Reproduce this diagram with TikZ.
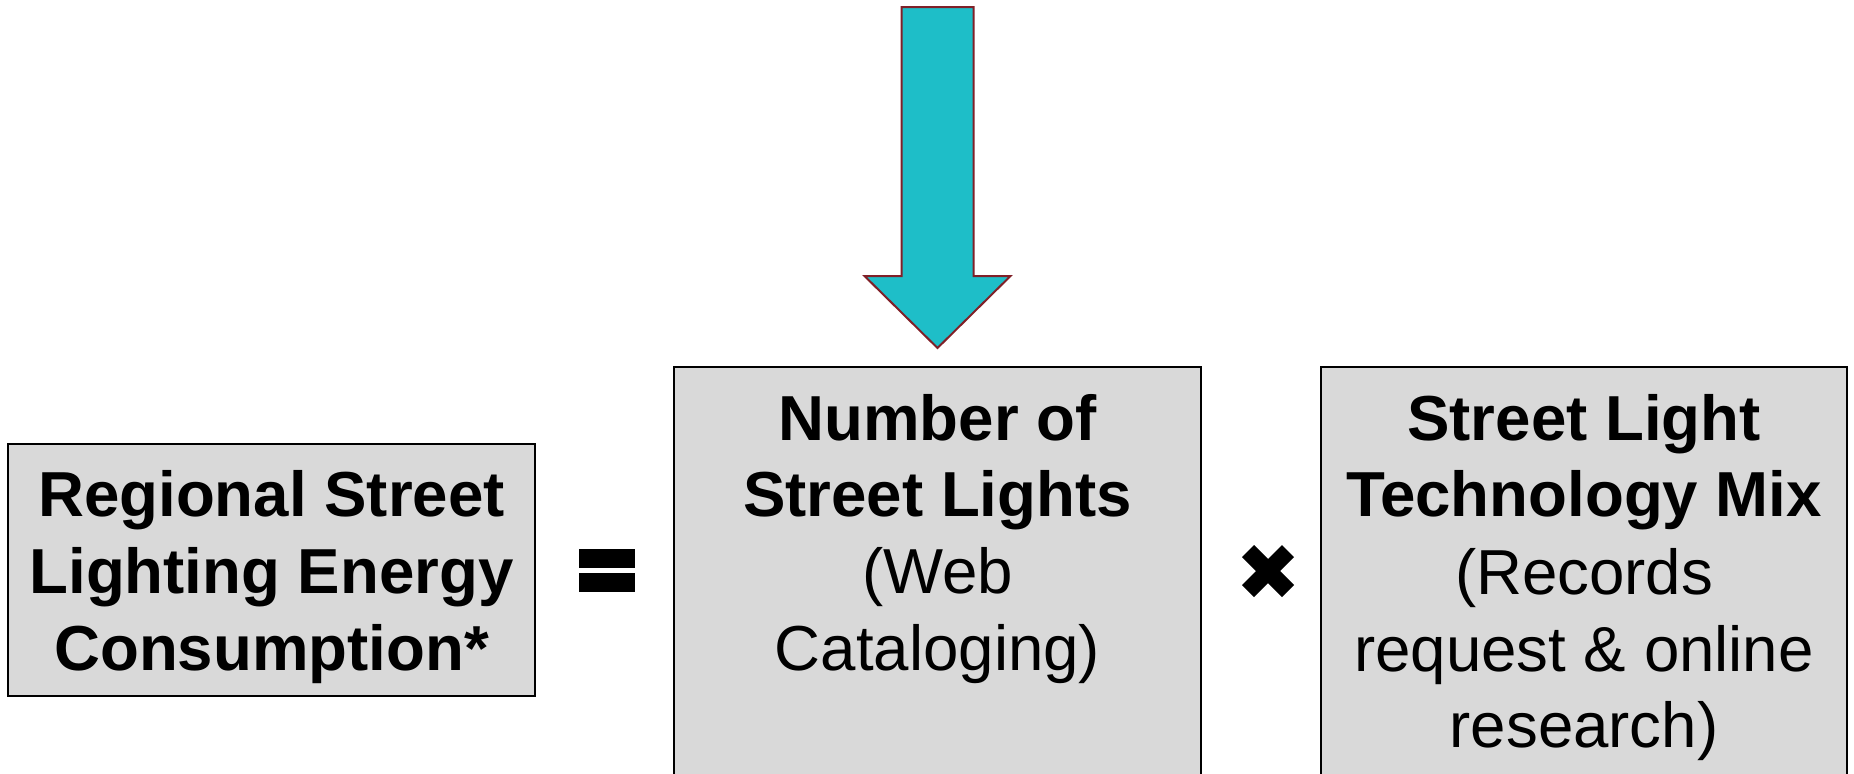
\documentclass[tikz,border=0pt]{standalone}
\usepackage{fontspec}
\setmainfont{Liberation Sans}
\definecolor{boxgray}{RGB}{217,217,217}
\definecolor{arrowfill}{RGB}{30,190,200}
\definecolor{arrowedge}{RGB}{128,32,40}
\begin{document}
\begin{tikzpicture}[x=0.5pt,y=-0.5pt,
  termbox/.style={draw=black, line width=1pt, fill=boxgray, inner sep=0pt, outer sep=0pt},
  boxtext/.style={font=\fontsize{31.8}{38.5}\selectfont, align=center, inner sep=0pt, anchor=north},
  opbar/.style={fill=black, draw=none},
  crossarm/.style={draw=black, line width=8.5pt, line cap=butt}]
\useasboundingbox (0,0) rectangle (1854,773);
\clip (0,0) rectangle (1854,773);

% the three terms of the equation
\node (lhs) [termbox, minimum width=263.5pt, minimum height=126pt] at (271.5,570) {};
\node (count) [termbox, minimum width=263.5pt, minimum height=216.5pt] at (937.5,583.5) {};
\node (mix) [termbox, minimum width=263pt, minimum height=216.5pt] at (1584,583.5) {};

\node (lhstext) [boxtext] at (271.5,470.5)
  {\bfseries Regional Street\\\bfseries Lighting Energy\\\bfseries Consumption*};
\node (counttext) [boxtext] at (937.5,393.5)
  {\bfseries Number of\\\bfseries Street Lights\\(Web\\Cataloging)};
\node (mixtext) [boxtext] at (1584,393.5)
  {\bfseries Street Light\\\bfseries Technology Mix\\(Records\\request \& online\\research)};

% equals sign
\coordinate (eq) at (607,570.5);
\fill[opbar] ([shift={(-28,-21.5)}]eq) rectangle ([shift={(28,-2.5)}]eq);
\fill[opbar] ([shift={(-28,2.5)}]eq) rectangle ([shift={(28,21.5)}]eq);

% multiplication sign
\coordinate (times) at (1268,571);
\draw[crossarm] ([shift={(-20,-20)}]times) -- ([shift={(20,20)}]times);
\draw[crossarm] ([shift={(-20,20)}]times) -- ([shift={(20,-20)}]times);

% block arrow pointing down onto the street-light count
\coordinate (tip) at (count.north |- 0,348);
\draw[fill=arrowfill, draw=arrowedge, line width=1pt, line join=miter]
  (tip) -- ([shift={(73,-72)}]tip) -- ([shift={(36,-72)}]tip)
  -- ([shift={(36,-341)}]tip) -- ([shift={(-36,-341)}]tip)
  -- ([shift={(-36,-72)}]tip) -- ([shift={(-73,-72)}]tip) -- cycle;
\end{tikzpicture}
\end{document}
